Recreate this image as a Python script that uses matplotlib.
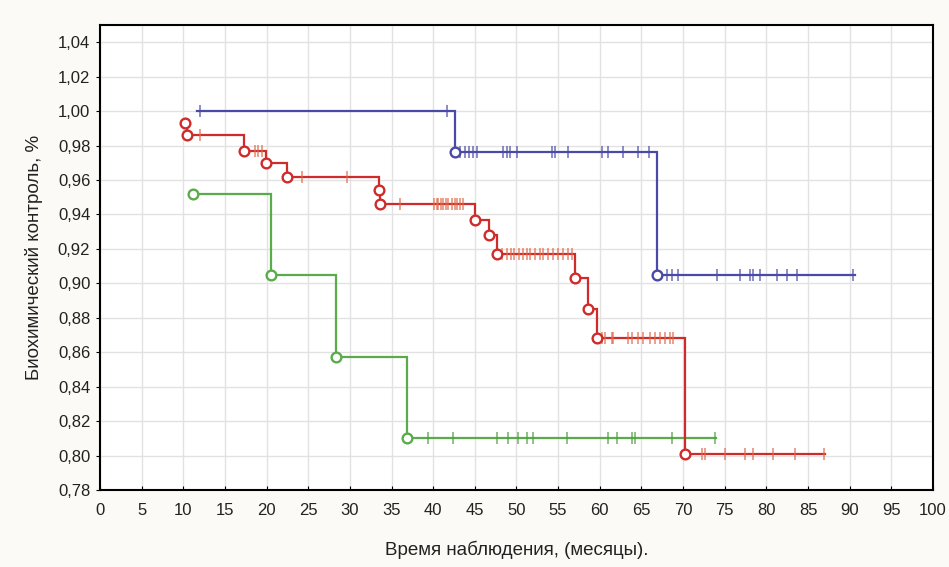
import numpy as np
import matplotlib
matplotlib.use("Agg")
import matplotlib.pyplot as plt
from matplotlib.ticker import FuncFormatter

# ---------------- data ----------------
# Group 1 (blue)
blue_start = 11.6
blue_start_surv = 1.000
blue_event_t = [42.6, 66.9]
blue_event_s = [0.976, 0.905]
blue_end = 90.6
blue_cens = [12.0, 41.7, 43.2, 43.8, 44.3, 44.8, 45.3, 48.4, 48.9, 49.2, 50.1,
             54.3, 54.6, 56.2, 60.3, 61.0, 62.8, 64.6, 65.9,
             68.1, 68.7, 69.4, 74.1, 76.8, 78.0, 78.4, 79.2, 81.3, 82.5, 83.7, 90.4]

# Group 2 (red)
red_start = 10.2
red_start_surv = 0.993
red_event_t = [10.5, 17.3, 19.9, 22.5, 33.5, 33.6, 45.0, 46.7, 47.7, 57.0, 58.6, 59.7, 70.2]
red_event_s = [0.986, 0.977, 0.970, 0.962, 0.954, 0.946, 0.937, 0.928, 0.917, 0.903, 0.885, 0.868, 0.801]
red_end = 87.0
red_cens = [12.0, 18.6, 19.0, 19.4, 24.3, 29.6, 36.0,
            40.1, 40.5, 40.6, 40.9, 41.2, 41.5, 41.8, 42.3, 42.6, 42.9, 43.2, 43.6,
            48.3, 48.9, 49.3, 49.7, 50.3, 50.8, 51.3, 51.6, 52.2, 52.8, 53.2, 53.8,
            54.4, 55.0, 55.6, 56.2, 56.7,
            60.3, 60.6, 61.5, 61.6, 63.4, 63.9, 64.6, 65.2, 66.0, 66.6, 67.2, 67.8, 68.4, 68.8,
            72.3, 72.6, 75.0, 77.4, 78.4, 80.8, 83.4, 86.9]

# Group 3 (green)
green_start = 11.2
green_start_surv = 0.952
green_event_t = [20.5, 28.3, 36.9]
green_event_s = [0.905, 0.857, 0.810]
green_end = 74.0
green_cens = [39.4, 42.4, 47.7, 49.0, 50.2, 51.3, 52.0, 56.1, 61.0, 62.1, 63.9, 64.2, 68.7, 73.8]

x_ticks = list(range(0, 101, 5))
y_ticks = [0.78, 0.80, 0.82, 0.84, 0.86, 0.88, 0.90, 0.92, 0.94, 0.96, 0.98, 1.00, 1.02, 1.04]

xlabel = "Время наблюдения, (месяцы)."
ylabel = "Биохимический контроль, %"

# ---------------- plot ----------------
plt.rcParams['font.family'] = ['Liberation Sans', 'DejaVu Sans']

fig = plt.figure(figsize=(9.49, 5.67), dpi=100)
fig.patch.set_facecolor('#fbfaf6')
ax = fig.add_axes([0.1054, 0.1358, 0.8777, 0.8202])
ax.set_facecolor('white')


def draw_group(start, start_s, ev_t, ev_s, end, cens, line_col, cens_col, circle_first):
    t = np.array([start] + list(ev_t) + [end])
    s = np.array([start_s] + list(ev_s) + [ev_s[-1]])
    ax.step(t, s, where='post', color=line_col, lw=1.6, zorder=3, solid_joinstyle='miter')
    ct = list(ev_t)
    cs = list(ev_s)
    if circle_first:
        ct = [start] + ct
        cs = [start_s] + cs
    ax.plot(ct, cs, linestyle='none', marker='o', ms=7, mfc='white',
            mec=line_col, mew=1.7, zorder=5)
    c = np.array(cens)
    idx = np.searchsorted(t, c, side='right') - 1
    idx = np.clip(idx, 0, len(s) - 1)
    ax.plot(c, s[idx], linestyle='none', marker='|', ms=8, mew=1.1,
            color=cens_col, zorder=4, alpha=0.8)


draw_group(green_start, green_start_surv, green_event_t, green_event_s, green_end,
           green_cens, '#5aac4a', '#4e9c40', True)
draw_group(red_start, red_start_surv, red_event_t, red_event_s, red_end,
           red_cens, '#cf2b2b', '#e06a4a', True)
draw_group(blue_start, blue_start_surv, blue_event_t, blue_event_s, blue_end,
           blue_cens, '#4a4aa6', '#4a4aa6', False)

ax.set_xlim(0, 100)
ax.set_ylim(0.78, 1.05)
ax.set_xticks(x_ticks)
ax.set_yticks(y_ticks)
ax.yaxis.set_major_formatter(FuncFormatter(lambda v, p: f"{v:.2f}".replace('.', ',')))
ax.xaxis.set_major_formatter(FuncFormatter(lambda v, p: f"{v:.0f}"))
ax.grid(True, color='#e2e2e2', lw=1.0, zorder=0)
ax.set_axisbelow(True)

for sp in ax.spines.values():
    sp.set_color('black')
    sp.set_linewidth(1.5)

ax.tick_params(axis='x', direction='in', length=3, labelsize=12, pad=9, colors='black',
               labelcolor='#222222')
ax.tick_params(axis='y', direction='out', length=3, labelsize=12, pad=4, colors='black',
               labelcolor='#222222')

ax.set_xlabel(xlabel, fontsize=13.5, labelpad=17, color='#222222')
ax.set_ylabel(ylabel, fontsize=13.5, labelpad=11, color='#222222')

fig.savefig('out.png', dpi=100, facecolor=fig.get_facecolor())
